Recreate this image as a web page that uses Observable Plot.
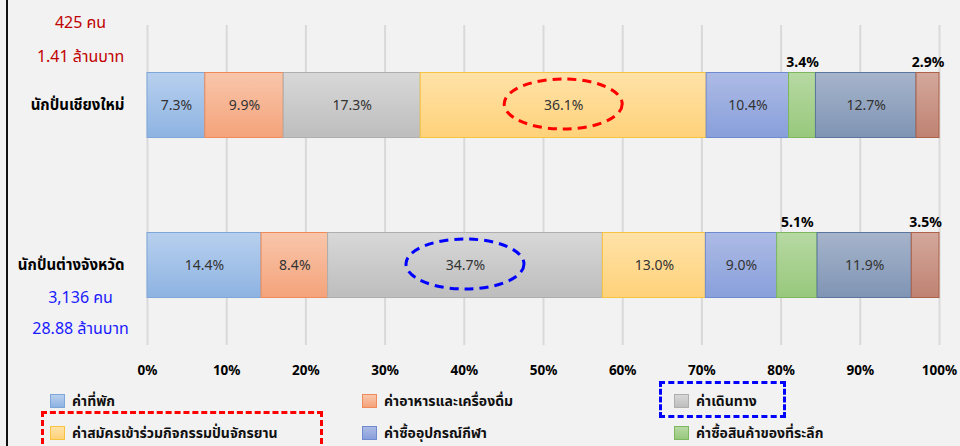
<!DOCTYPE html>
<html><head><meta charset="utf-8">
<script src="https://cdn.jsdelivr.net/npm/d3@7"></script>
<script src="https://cdn.jsdelivr.net/npm/@observablehq/plot@0.6"></script>
<style>
body{margin:0;background:#f2f2f2;}
#wrap{position:relative;width:960px;height:446px;overflow:hidden;background:#f2f2f2;font-family:"Noto Sans","Noto Sans Thai","Loma","Garuda","DejaVu Sans",sans-serif;}
#edge{position:absolute;left:6px;top:0;width:2px;height:446px;background:#111;}
#legend{position:relative;width:960px;height:66px;overflow:hidden;}
.item{position:absolute;display:flex;align-items:center;font-weight:bold;font-size:14px;line-height:18px;color:#111;white-space:nowrap;}
.sw{width:15px;height:14px;margin-right:7px;box-sizing:border-box;border:1px solid;}
.box{position:absolute;border:3px dashed;box-sizing:border-box;}
#chart svg{display:block;}
</style></head>
<body>
<div id="wrap"><div id="chart"></div><div id="legend"></div><div id="edge"></div></div>
<script>
// ---- data ----
const groups = ["นักปั่นเชียงใหม่", "นักปั่นต่างจังหวัด"];
const categories = [
  "ค่าที่พัก",
  "ค่าอาหารและเครื่องดื่ม",
  "ค่าเดินทาง",
  "ค่าสมัครเข้าร่วมกิจกรรมปั่นจักรยาน",
  "ค่าซื้ออุปกรณ์กีฬา",
  "ค่าซื้อสินค้าของที่ระลึก",
  "ค่าบันเทิง",
  "อื่นๆ"
];
const valuesChiangMai = [7.3, 9.9, 17.3, 36.1, 10.4, 3.4, 12.7, 2.9];
const valuesOther = [14.4, 8.4, 34.7, 13.0, 9.0, 5.1, 11.9, 3.5];
const people = ["425 คน", "3,136 คน"];
const money = ["1.41 ล้านบาท", "28.88 ล้านบาท"];
const xTicks = [0, 10, 20, 30, 40, 50, 60, 70, 80, 90, 100];
const highlights = [
  {group: groups[0], cat: categories[3], color: "#ff0000"},
  {group: groups[1], cat: categories[2], color: "#0000ff"}
];
const legendVisible = 6; // the remaining legend rows fall below the picture's edge

// ---- styles ----
const gradTop = ["#b8d0ee", "#f9c6ab", "#d8d8d8", "#ffe2a8", "#adbbe5", "#b7d9a3", "#a6b4cb", "#d3a89c"];
const gradBot = ["#8db3e2", "#f4a37a", "#bdbdbd", "#ffd27a", "#889fdb", "#97c87c", "#7f94b4", "#bf8272"];
const strokes = ["#7ea6d8", "#f08a58", "#aeaeae", "#f8c440", "#6f8bd0", "#7db860", "#5a769e", "#ae6048"];
const annoColors = ["#c00000", "#1a1aff"];
const annoDy = [[-83, -49], [32, 63]];

const rows = [];
groups.forEach((g, gi) => {
  const vals = gi === 0 ? valuesChiangMai : valuesOther;
  categories.forEach((c, i) => rows.push({group: g, cat: c, i, value: vals[i]}));
});

const annoMarks = [];
groups.forEach((g, gi) => {
  [people[gi], money[gi]].forEach((t, li) => {
    annoMarks.push(Plot.text([{group: g, text: t}], {
      y: "group", text: "text", fill: annoColors[gi], frameAnchor: "left",
      dx: -67, dy: annoDy[gi][li], fontSize: 16, textAnchor: "middle"
    }));
  });
});

const font = "'Noto Sans','Noto Sans Thai','Loma','Garuda','DejaVu Sans',sans-serif";
const svg = Plot.plot({
  width: 960, height: 380,
  marginLeft: 147, marginRight: 21, marginTop: 25, marginBottom: 35,
  style: {background: "transparent", fontFamily: font, color: "#000", overflow: "visible"},
  x: {domain: [0, 100], label: null},
  y: {domain: groups, padding: 0, label: null},
  color: {domain: categories, range: categories.map((_, i) => `url(#g${i})`)},
  marks: [
    Plot.gridX({ticks: xTicks, stroke: "#d9d9d9", strokeOpacity: 1, strokeWidth: 2}),
    Plot.axisX({ticks: xTicks, tickFormat: d => d + "%", tickSize: 0, tickPadding: 20, fontSize: 13.5, fontWeight: "bold", label: null}),
    Plot.axisY({tickSize: 0, tickPadding: 23, fontSize: 15, fontWeight: "bold", label: null}),
    Plot.barX(rows, Plot.stackX({x: "value", y: "group", fill: "cat", stroke: d => strokes[d.i], strokeWidth: 1, insetTop: 47.5, insetBottom: 47.5})),
    Plot.text(rows, Plot.stackX({x: "value", y: "group", text: d => d.value >= 6 ? d.value.toFixed(1) + "%" : null, fill: "#333", fontSize: 14})),
    Plot.text(rows, Plot.stackX({x: "value", y: "group", text: d => d.value < 6 ? d.value.toFixed(1) + "%" : null, fill: "#000", fontSize: 14, fontWeight: "bold", dy: -43})),
    ...annoMarks
  ]
});

// gradients
const defs = d3.select(svg).insert("defs", ":first-child");
categories.forEach((c, i) => {
  const lg = defs.append("linearGradient").attr("id", `g${i}`).attr("x1", 0).attr("y1", 0).attr("x2", 0).attr("y2", 1);
  lg.append("stop").attr("offset", "0%").attr("stop-color", gradTop[i]);
  lg.append("stop").attr("offset", "100%").attr("stop-color", gradBot[i]);
});

// dashed ellipses around highlighted segments, positioned by the scales
const xs = svg.scale("x"), ys = svg.scale("y");
highlights.forEach(h => {
  const gi = groups.indexOf(h.group);
  const vals = gi === 0 ? valuesChiangMai : valuesOther;
  const ci = categories.indexOf(h.cat);
  const start = d3.sum(vals.slice(0, ci));
  const cx = xs.apply(start + vals[ci] / 2);
  const cy = ys.apply(h.group) + ys.bandwidth / 2;
  d3.select(svg).append("ellipse")
    .attr("cx", cx).attr("cy", cy - 1).attr("rx", 59).attr("ry", 25)
    .attr("fill", "none").attr("stroke", h.color).attr("stroke-width", 3)
    .attr("stroke-dasharray", "9,6");
});

document.getElementById("chart").appendChild(svg);

// legend
const legend = document.getElementById("legend");
const colX = [50, 362, 674];
const rowY = [21, 53];
categories.slice(0, legendVisible).forEach((c, i) => {
  const it = document.createElement("div");
  it.className = "item";
  it.style.left = colX[i % 3] + "px";
  it.style.top = (rowY[Math.floor(i / 3)] - 9) + "px";
  it.style.height = "18px";
  const sw = document.createElement("div");
  sw.className = "sw";
  sw.style.background = `linear-gradient(${gradTop[i]}, ${gradBot[i]})`;
  sw.style.borderColor = strokes[i];
  const tx = document.createElement("span");
  tx.textContent = c;
  it.appendChild(sw); it.appendChild(tx);
  legend.appendChild(it);
});
const boxes = [
  {left: 41, top: 31, width: 282, height: 60, color: "#ff0000"},
  {left: 659, top: 1, width: 127, height: 37, color: "#0000ff"}
];
boxes.forEach(b => {
  const d = document.createElement("div");
  d.className = "box";
  Object.assign(d.style, {left: b.left + "px", top: b.top + "px", width: b.width + "px", height: b.height + "px", borderColor: b.color});
  legend.appendChild(d);
});
</script>
</body></html>
